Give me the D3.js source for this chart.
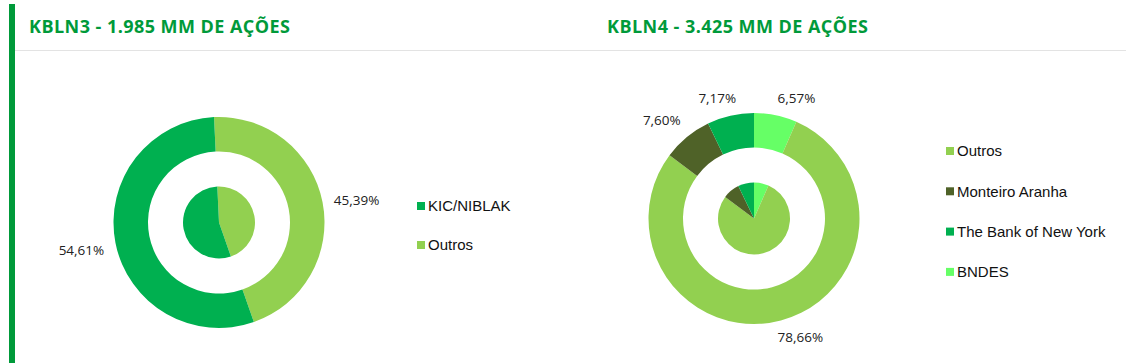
<!DOCTYPE html>
<html>
<head>
<meta charset="utf-8">
<script src="https://cdn.jsdelivr.net/npm/d3@7"></script>
<style>
  body { margin: 0; background: #fff; }
</style>
</head>
<body>
<div id="chart"></div>
<script>
// data
let kbln3Names = ["Outros", "KIC/NIBLAK"];
let kbln3Values = [45.39, 54.61];
let kbln3Legend = ["KIC/NIBLAK", "Outros"];

let kbln4Names = ["BNDES", "Outros", "Monteiro Aranha", "The Bank of New York"];
let kbln4Values = [6.57, 78.66, 7.60, 7.17];
let kbln4Legend = ["Outros", "Monteiro Aranha", "The Bank of New York", "BNDES"];

let titles = ["KBLN3 - 1.985 MM DE AÇÕES", "KBLN4 - 3.425 MM DE AÇÕES"];

let width = 1126, height = 363;

let color = d3.scaleOrdinal()
  .domain(["KIC/NIBLAK", "Outros", "Monteiro Aranha", "The Bank of New York", "BNDES"])
  .range(["#00b050", "#92d050", "#4f6228", "#00b050", "#66ff66"]);

// small manual nudges for the outside labels (like excel's best fit)
let nudge = {
  "a:KIC/NIBLAK": [0, 5],
  "b:BNDES": [-1, -3],
  "b:The Bank of New York": [9, -3.5],
  "b:Monteiro Aranha": [3, -6],
  "b:Outros": [-7, 2.5]
};

let svg = d3.select("#chart")
  .append("svg")
    .attr("width", width)
    .attr("height", height);

// green bar on the left + header line
svg.append("rect")
  .attr("x", 9).attr("y", 4)
  .attr("width", 6).attr("height", height - 4)
  .attr("fill", "#009a3a");
svg.append("line")
  .attr("x1", 15).attr("x2", width)
  .attr("y1", 50.5).attr("y2", 50.5)
  .attr("stroke", "#e3e3e3");

// titles
svg.selectAll(".title")
  .data(titles)
  .enter().append("text")
    .attr("class", "title")
    .attr("x", function(d, i) { return i == 0 ? 29 : 607; })
    .attr("y", 32.5)
    .attr("font-family", "Open Sans")
    .attr("font-weight", "bold")
    .attr("font-size", "18px")
    .attr("letter-spacing", "0.45px")
    .attr("fill", "#009a3a")
    .text(function(d) { return d; });

function fmt(v) {
  return v.toFixed(2).replace(".", ",") + "%";
}

function drawDonut(key, cx, cy, names, values, start, labelR) {
  let data = names.map(function(n, i) { return {name: n, value: values[i]}; });
  let pie = d3.pie()
    .sort(null)
    .value(function(d) { return d.value; })
    .startAngle(start)
    .endAngle(start + 2 * Math.PI);
  let arcs = pie(data);

  let g = svg.append("g")
    .attr("transform", "translate(" + cx + "," + cy + ")");

  let ring = d3.arc().innerRadius(71).outerRadius(105.5);
  let inner = d3.arc().innerRadius(0).outerRadius(36);

  g.selectAll(".ring")
    .data(arcs)
    .enter().append("path")
      .attr("d", ring)
      .attr("fill", function(d) { return color(d.data.name); });

  g.selectAll(".inner")
    .data(arcs)
    .enter().append("path")
      .attr("d", inner)
      .attr("fill", function(d) { return color(d.data.name); });

  // labels outside the ring
  g.selectAll(".lbl")
    .data(arcs)
    .enter().append("text")
      .attr("x", function(d) {
        let a = (d.startAngle + d.endAngle) / 2;
        let n = nudge[key + ":" + d.data.name] || [0, 0];
        return Math.sin(a) * labelR + n[0];
      })
      .attr("y", function(d) {
        let a = (d.startAngle + d.endAngle) / 2;
        let n = nudge[key + ":" + d.data.name] || [0, 0];
        return -Math.cos(a) * labelR + n[1];
      })
      .attr("dy", "0.35em")
      .attr("text-anchor", function(d) {
        let a = (d.startAngle + d.endAngle) / 2;
        return Math.sin(a) >= 0 ? "start" : "end";
      })
      .attr("font-family", "Open Sans")
      .attr("font-size", "13.5px")
      .attr("fill", "#222")
      .text(function(d) { return fmt(d.data.value); });
}

function drawLegend(x, y0, step, names) {
  let lg = svg.append("g");
  let item = lg.selectAll("g")
    .data(names)
    .enter().append("g")
      .attr("transform", function(d, i) { return "translate(" + x + "," + (y0 + i * step) + ")"; });
  item.append("rect")
    .attr("x", 0).attr("y", -4)
    .attr("width", 8).attr("height", 8)
    .attr("fill", function(d) { return color(d); });
  item.append("text")
    .attr("x", 11)
    .attr("dy", "0.36em")
    .attr("font-family", "Liberation Sans")
    .attr("font-size", "15px")
    .attr("fill", "#111")
    .text(function(d) { return d; });
}

drawDonut("a", 219, 222.5, kbln3Names, kbln3Values, -2.7 * Math.PI / 180, 117);
drawDonut("b", 754, 218.5, kbln4Names, kbln4Values, 0, 120);

drawLegend(417, 206, 39, kbln3Legend);
drawLegend(946, 151, 40.3, kbln4Legend);
</script>
</body>
</html>
